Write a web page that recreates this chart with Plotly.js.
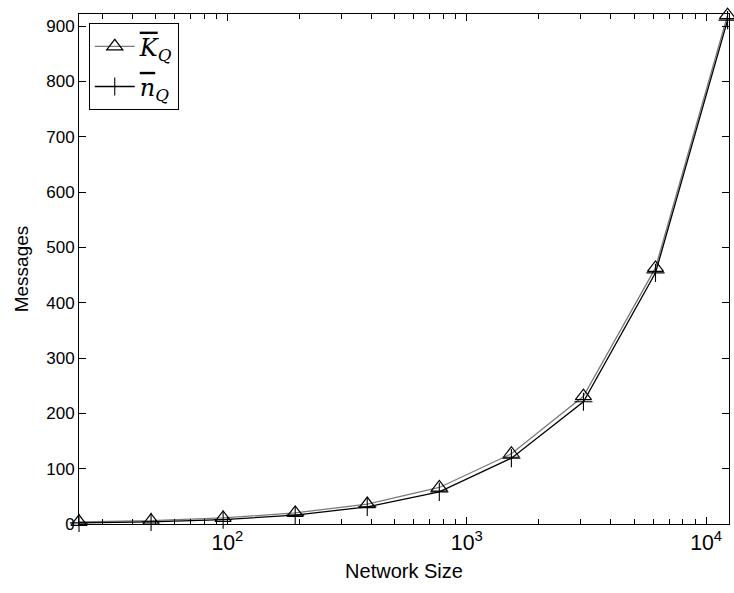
<!DOCTYPE html>
<html><head><meta charset="utf-8">
<script src="https://cdn.plot.ly/plotly-3.0.1.min.js"></script>
<style>html,body{margin:0;padding:0;background:#fff}</style>
</head><body><div id="chart" style="width:734px;height:593px"></div>
<script>
const networkSize = [24, 48, 96, 192, 384, 768, 1536, 3072, 6144, 12288];
const kQ = [4, 6, 11, 20, 36, 66, 127, 231, 463, 920];
const nQ = [2, 4, 8, 16, 31, 58, 119, 221, 454, 911];
const seriesNames = ['<i><span style="text-decoration:overline">K</span><sub>Q</sub></i>', '<i><span style="text-decoration:overline">n</span><sub>Q</sub></i>'];

const traces = [
  {x: networkSize, y: kQ, name: seriesNames[0], legendgroup: 'a', mode: 'lines+markers',
   line: {color: '#7a7a7a', width: 1.3},
   marker: {symbol: 'triangle-up-open', size: 14, color: '#000', line: {width: 1.2, color: '#000'}},
   cliponaxis: false},
  {x: networkSize, y: nQ, name: seriesNames[1], legendgroup: 'b', mode: 'lines+markers',
   line: {color: '#000', width: 1.3},
   marker: {symbol: 'cross-thin-open', size: 13, color: '#000', line: {width: 1.1, color: '#000'}},
   cliponaxis: false}
];

const axisCommon = {showline: true, linecolor: '#000', linewidth: 1, mirror: 'ticks', ticks: 'inside',
  tickcolor: '#000', showgrid: false, zeroline: false,
  tickfont: {family: 'Liberation Sans, Arial, sans-serif', size: 17, color: '#000'}};

const layout = {
  width: 734, height: 593,
  margin: {l: 79, r: 5, t: 14, b: 69},
  paper_bgcolor: '#fff', plot_bgcolor: '#fff',
  showlegend: true,
  legend: {x: 0.015, y: 0.982, xanchor: 'left', yanchor: 'top', bordercolor: '#000', borderwidth: 1,
    bgcolor: '#fff', font: {family: 'DejaVu Serif, serif', size: 24, color: '#000'}, tracegroupgap: 6,
    itemwidth: 40},
  xaxis: Object.assign({}, axisCommon, {
    type: 'log', range: [Math.log10(24), Math.log10(12288) + 0.006],
    dtick: 1, exponentformat: 'power', ticklen: 7,
    minor: {ticks: 'inside', ticklen: 5, dtick: 'D1', tickcolor: '#000', showgrid: false},
    title: {text: 'Network Size', font: {family: 'Liberation Sans, Arial, sans-serif', size: 20, color: '#000'}, standoff: 10}
  }),
  yaxis: Object.assign({}, axisCommon, {
    range: [0, 922], tick0: 0, dtick: 100, ticklen: 7,
    title: {text: 'Messages', font: {family: 'Liberation Sans, Arial, sans-serif', size: 19, color: '#000'}, standoff: 12}
  })
};

Plotly.newPlot('chart', traces, layout, {displayModeBar: false});
</script></body></html>
